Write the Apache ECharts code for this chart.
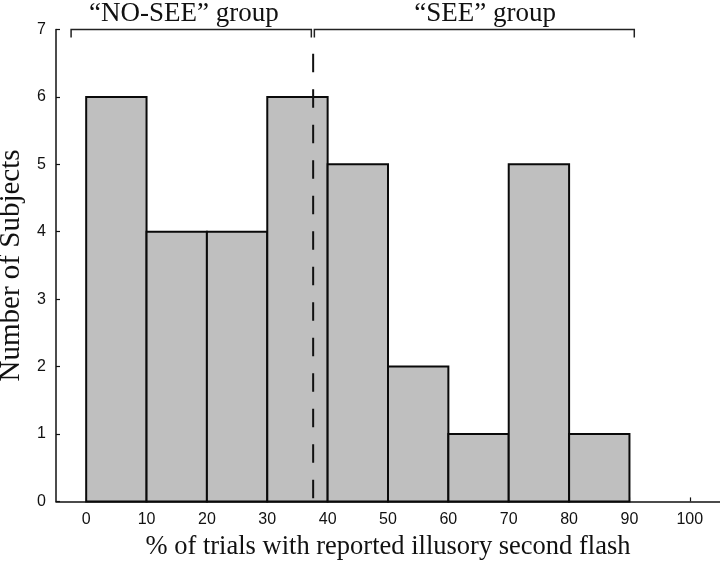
<!DOCTYPE html>
<html>
<head>
<meta charset="utf-8">
<script src="https://cdn.jsdelivr.net/npm/echarts@6/dist/echarts.min.js"></script>
<style>html,body{margin:0;padding:0;background:#fff}#c{width:720px;height:563px}</style>
</head>
<body>
<div id="c"></div>
<script>
// ---- data ----
const binStarts = [0, 10, 20, 30, 40, 50, 60, 70, 80];
const binWidth = 10;
const counts = [6, 4, 4, 6, 5, 2, 1, 5, 1];
const xTicks = [0, 10, 20, 30, 40, 50, 60, 70, 80, 90, 100];
const yTicks = [0, 1, 2, 3, 4, 5, 6, 7];
const cutoff = 37.6;          // dashed split between groups
const cutoffTop = 6.64;       // top of the dashed line (data units)
const groupNames = ['\u201cNO-SEE\u201d group', '\u201cSEE\u201d group'];
const bracketStart = [-2.5, 37.8];
const bracketEnd = [37.3, 90.8];
const bracketLevel = 7;
const groupLabelX = [16.2, 66.1];
const groupLabelY = 7.23;

const barData = binStarts.map((s, i) => [s, s + binWidth, counts[i]]);
const bracketData = bracketStart.map((s, i) => [s, bracketEnd[i], bracketLevel]);
const labelData = groupLabelX.map((x, i) => [x, groupLabelY, groupNames[i]]);

const chart = echarts.init(document.getElementById('c'), null, {renderer: 'canvas'});
const serif = '"Liberation Serif", "DejaVu Serif", serif';
const sans = '"Liberation Sans", Arial, sans-serif';

chart.setOption({
  animation: false,
  backgroundColor: '#fff',
  grid: {left: 56, right: 0, top: 29.5, bottom: 61.6, containLabel: false, outerBoundsMode: 'none'},
  xAxis: {
    type: 'value', min: -5, max: 105,
    name: '% of trials with reported illusory second flash',
    nameLocation: 'middle', nameGap: 32,
    nameTextStyle: {fontFamily: serif, fontSize: 26.5, color: '#111'},
    axisLine: {onZero: false, lineStyle: {color: '#111', width: 1.5}},
    axisTick: {inside: true, length: 4, customValues: xTicks, lineStyle: {color: '#111', width: 1.2}},
    axisLabel: {customValues: xTicks, margin: 10, fontFamily: sans, fontSize: 16, color: '#111'},
    splitLine: {show: false}
  },
  yAxis: {
    type: 'value', min: 0, max: 7, interval: 1,
    name: 'Number of Subjects',
    nameLocation: 'middle', nameGap: 27, nameRotate: 90,
    nameTextStyle: {fontFamily: serif, fontSize: 29, color: '#111'},
    axisLine: {show: true, onZero: false, lineStyle: {color: '#111', width: 1.5}},
    axisTick: {show: true, inside: true, length: 4, lineStyle: {color: '#111', width: 1.2}},
    axisLabel: {margin: 10, fontFamily: sans, fontSize: 16, color: '#111'},
    splitLine: {show: false}
  },
  series: [
    {
      type: 'custom', z: 2, clip: false,
      data: barData,
      renderItem: function (params, api) {
        const p0 = api.coord([api.value(0), api.value(2)]);
        const p1 = api.coord([api.value(1), 0]);
        return {
          type: 'rect',
          shape: {x: p0[0], y: p0[1], width: p1[0] - p0[0], height: p1[1] - p0[1]},
          style: {fill: '#bfbfbf', stroke: '#0a0a0a', lineWidth: 2}
        };
      }
    },
    {
      type: 'custom', z: 3, clip: false,
      data: bracketData,
      renderItem: function (params, api) {
        const a = api.coord([api.value(0), api.value(2)]);
        const b = api.coord([api.value(1), api.value(2)]);
        const d = 8;
        return {
          type: 'polyline',
          shape: {points: [[a[0], a[1] + d], [a[0], a[1]], [b[0], b[1]], [b[0], b[1] + d]]},
          style: {fill: null, stroke: '#222', lineWidth: 1.5}
        };
      }
    },
    {
      type: 'custom', z: 4, clip: false,
      data: [[cutoff, cutoffTop, 0]],
      renderItem: function (params, api) {
        const a = api.coord([api.value(0), api.value(1)]);
        const b = api.coord([api.value(0), api.value(2)]);
        return {
          type: 'line',
          shape: {x1: a[0], y1: a[1], x2: b[0], y2: b[1]},
          style: {stroke: '#111', lineWidth: 2, lineDash: [18.5, 17]}
        };
      }
    },
    {
      type: 'custom', z: 5, clip: false,
      data: labelData,
      renderItem: function (params, api) {
        const p = api.coord([api.value(0), api.value(1)]);
        return {
          type: 'text',
          x: p[0], y: p[1],
          style: {
            text: labelData[params.dataIndex][2],
            fontFamily: serif, fontSize: 27, fill: '#111',
            align: 'center', verticalAlign: 'middle'
          }
        };
      }
    }
  ]
});
</script>
</body>
</html>
